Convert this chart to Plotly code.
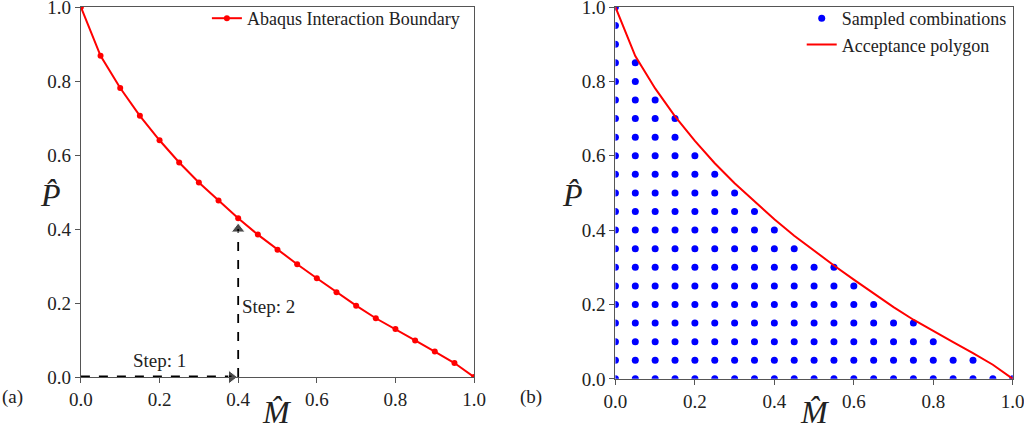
import plotly.graph_objects as go

# interaction boundary
m_hat = [0.0, 0.05, 0.10, 0.15, 0.20, 0.25, 0.30, 0.35, 0.40, 0.45, 0.50,
         0.55, 0.60, 0.65, 0.70, 0.75, 0.80, 0.85, 0.90, 0.95, 1.0]
p_hat = [1.0, 0.868, 0.781, 0.706, 0.640, 0.580, 0.526, 0.477, 0.429, 0.385, 0.344,
         0.305, 0.267, 0.229, 0.193, 0.159, 0.130, 0.099, 0.069, 0.038, 0.0]

# highest sampled P level in each M column of panel (b)
grid_m = m_hat
grid_top = [1.0, 0.85, 0.75, 0.70, 0.60, 0.55, 0.50, 0.45, 0.40, 0.35, 0.30,
            0.30, 0.25, 0.20, 0.15, 0.15, 0.10, 0.05, 0.05, 0.0, 0.0]
grid_step = 0.05

# step arrows in panel (a)
step1_x = [0.0, 0.383]
step1_y = [0.0, 0.0]
step2_x = [0.4, 0.4]
step2_y = [0.0, 0.40]

tick_vals = [0.0, 0.2, 0.4, 0.6, 0.8, 1.0]

sx, sy = [], []
for m, top in zip(grid_m, grid_top):
    n = int(round(top / grid_step))
    for k in range(n + 1):
        sx.append(m)
        sy.append(k * grid_step)

FONT = "Liberation Serif"
fig = go.Figure()

fig.add_trace(go.Scatter(x=m_hat, y=p_hat, mode="lines+markers", name="Abaqus Interaction Boundary",
                         line=dict(color="red", width=2), marker=dict(color="red", size=6),
                         xaxis="x", yaxis="y", legend="legend"))
fig.add_trace(go.Scatter(x=step1_x, y=step1_y, mode="lines+markers", showlegend=False,
                         line=dict(color="black", width=3, dash="dash"),
                         marker=dict(symbol=["circle", "triangle-right"], size=[0, 12], color="black"),
                         xaxis="x", yaxis="y", cliponaxis=False))
fig.add_trace(go.Scatter(x=step2_x, y=step2_y, mode="lines+markers", showlegend=False,
                         line=dict(color="black", width=1.8, dash="dash"),
                         marker=dict(symbol=["circle", "triangle-up"], size=[0, 12], color="black"),
                         xaxis="x", yaxis="y", cliponaxis=False))

fig.add_trace(go.Scatter(x=sx, y=sy, mode="markers", name="Sampled combinations",
                         marker=dict(color="blue", size=7), xaxis="x2", yaxis="y2", legend="legend2"))
fig.add_trace(go.Scatter(x=m_hat, y=p_hat, mode="lines", name="Acceptance polygon",
                         line=dict(color="red", width=2), xaxis="x2", yaxis="y2", legend="legend2"))

ax = dict(range=[0, 1], tickvals=tick_vals, tickformat=".1f", showgrid=False, zeroline=False,
          showline=True, linecolor="#555", linewidth=1.2, mirror=True, automargin=False,
          ticks="outside", ticklen=5, tickcolor="#555", ticklabeloverflow="allow",
          tickfont=dict(family=FONT, size=19, color="#222"))

fig.update_layout(
    template="none",
    width=1024, height=439, margin=dict(l=0, r=0, t=0, b=0),
    paper_bgcolor="white", plot_bgcolor="white",
    font=dict(family=FONT, color="#222"),
    xaxis=dict(ax, domain=[0.079, 0.463], anchor="y"),
    yaxis=dict(ax, domain=[0.141, 0.984], anchor="x"),
    xaxis2=dict(ax, domain=[0.601, 0.989], anchor="y2"),
    yaxis2=dict(ax, domain=[0.137, 0.984], anchor="x2"),
    legend=dict(x=0.454, y=1.0, xanchor="right", yanchor="top", bgcolor="rgba(0,0,0,0)",
                font=dict(family=FONT, size=18), tracegroupgap=0),
    legend2=dict(x=0.988, y=1.0, xanchor="right", yanchor="top", bgcolor="rgba(0,0,0,0)",
                 font=dict(family=FONT, size=18), tracegroupgap=0),
    showlegend=True,
)

annots = [
    dict(text="Step: 1", x=0.2, y=0.045, xref="x", yref="y", showarrow=False, font=dict(size=19)),
    dict(text="Step: 2", x=0.405, y=0.19, xref="x", yref="y", xanchor="left", showarrow=False, font=dict(size=19)),
    dict(text="<i>P\u0302</i>", x=38 / 1024, y=1 - 195 / 439, xref="paper", yref="paper", showarrow=False, font=dict(size=32)),
    dict(text="<i>P\u0302</i>", x=572 / 1024, y=1 - 195 / 439, xref="paper", yref="paper", showarrow=False, font=dict(size=32)),
    dict(text="<i>M\u0302</i>", x=260 / 1024, y=1 - 432 / 439, xref="paper", yref="paper", showarrow=False, font=dict(size=32)),
    dict(text="<i>M\u0302</i>", x=832 / 1024, y=1 - 432 / 439, xref="paper", yref="paper", showarrow=False, font=dict(size=32)),
    dict(text="(a)", x=0, y=1 - 410 / 439, xref="paper", yref="paper", xanchor="left", showarrow=False, font=dict(size=19)),
    dict(text="(b)", x=518 / 1024, y=1 - 410 / 439, xref="paper", yref="paper", xanchor="left", showarrow=False, font=dict(size=19)),
]
fig.update_layout(annotations=annots)

# the page's default 8px body margin would shift the fixed-size figure
fig.write_html("out.html", config={"displayModeBar": False},
               post_script="document.body.style.margin='0';")
